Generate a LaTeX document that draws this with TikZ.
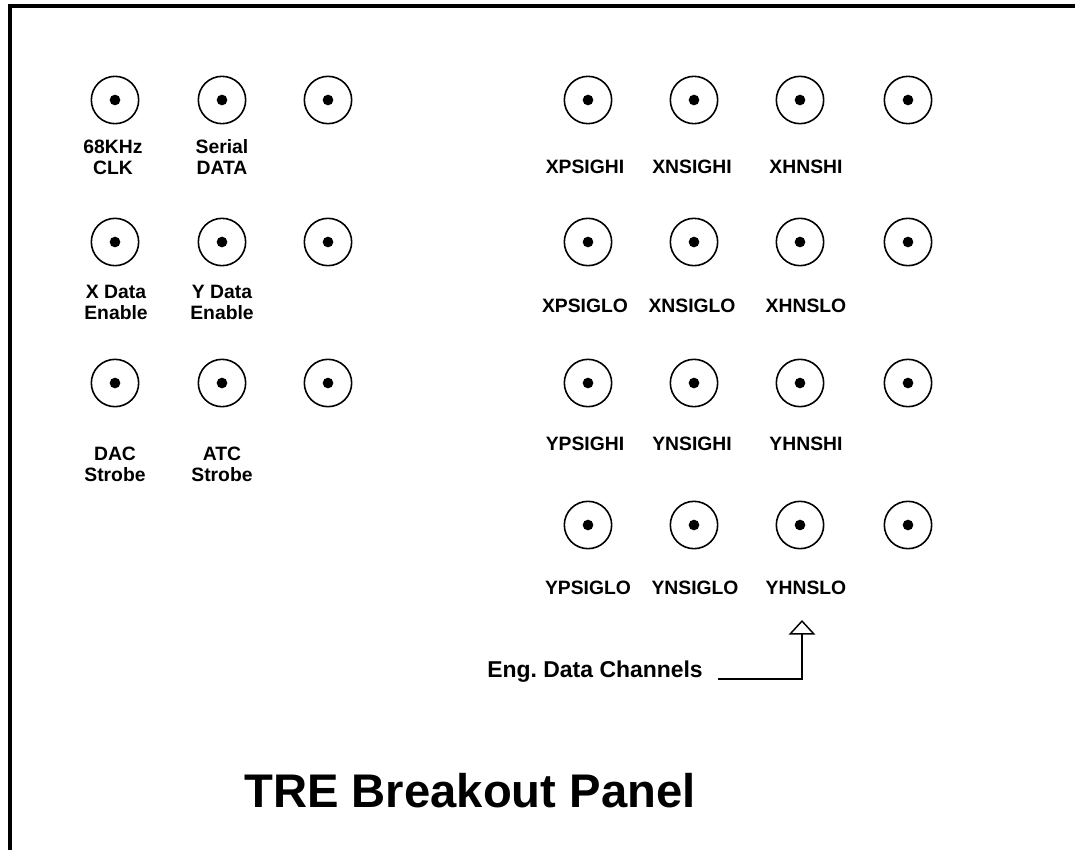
\documentclass[tikz,border=0pt]{standalone}
\usepackage{fontspec}
\setmainfont{Liberation Sans}
\usetikzlibrary{arrows.meta, positioning}

\tikzset{
  jack/.style={draw, circle, line width=1.2pt, minimum size=35.5pt, inner sep=0pt,
    path picture={\fill (path picture bounding box.center) circle (4pt);}},
  tag/.style={font=\bfseries\fontsize{14.5}{15.75}\selectfont, align=center, inner sep=0pt, anchor=base},
}

\begin{document}
\begin{tikzpicture}[x=0.75pt, y=-0.75pt, >=Latex]
  \useasboundingbox (0,0) rectangle (1075,850);
  % panel outline (cut off on the right and at the bottom)
  \draw[line width=2.3pt] (1075,6) -- (10,6) -- (10,850);
  % left block: timing / control jacks
  \node[jack] (clk)    at (115,100) {};
  \node[jack] (sdata)  at (222,100) {};
  \node[jack] (spareA) at (328,100) {};
  \node[jack] (xen)    at (115,242) {};
  \node[jack] (yen)    at (222,242) {};
  \node[jack] (spareB) at (328,242) {};
  \node[jack] (dac)    at (115,383) {};
  \node[jack] (atc)    at (222,383) {};
  \node[jack] (spareC) at (328,383) {};
  \node[tag] (clklbl)   at (113,174) {68KHz\\CLK};
  \node[tag] (sdatalbl) at (222,174) {Serial\\DATA};
  \node[tag] (xenlbl)   at (116,319) {X Data\\Enable};
  \node[tag] (yenlbl)   at (222,319) {Y Data\\Enable};
  \node[tag] (daclbl)   at (115,481) {DAC\\Strobe};
  \node[tag] (atclbl)   at (222,481) {ATC\\Strobe};
  % right block: engineering data channels
  \node[jack] (xpshi)  at (588,100) {};
  \node[jack] (xnshi)  at (694,100) {};
  \node[jack] (xhnshi) at (800,100) {};
  \node[jack] (spareD) at (908,100) {};
  \node[jack] (xpslo)  at (588,242) {};
  \node[jack] (xnslo)  at (694,242) {};
  \node[jack] (xhnslo) at (800,242) {};
  \node[jack] (spareE) at (908,242) {};
  \node[jack] (ypshi)  at (588,383) {};
  \node[jack] (ynshi)  at (694,383) {};
  \node[jack] (yhnshi) at (800,383) {};
  \node[jack] (spareF) at (908,383) {};
  \node[jack] (ypslo)  at (588,525) {};
  \node[jack] (ynslo)  at (694,525) {};
  \node[jack] (yhnslo) at (800,525) {};
  \node[jack] (spareG) at (908,525) {};
  \node[tag] at (585,173) {XPSIGHI};
  \node[tag] at (692,173) {XNSIGHI};
  \node[tag] at (806,173) {XHNSHI};
  \node[tag] at (585,312) {XPSIGLO};
  \node[tag] at (692,312) {XNSIGLO};
  \node[tag] at (806,312) {XHNSLO};
  \node[tag] at (585,450) {YPSIGHI};
  \node[tag] at (692,450) {YNSIGHI};
  \node[tag] at (806,450) {YHNSHI};
  \node[tag] at (588,594) {YPSIGLO};
  \node[tag] at (695,594) {YNSIGLO};
  \node[tag] (yhnslolbl) at (806,594) {YHNSLO};
  % pointer to the channel block
  \node[tag, font=\bfseries\fontsize{17.2}{19}\selectfont, anchor=base east] (eng) at (703,677) {Eng.\ Data Channels};
  \coordinate (engtip) at (802,620);
  \draw[line width=1.1pt, -{Triangle[open, length=11pt, width=20pt]}]
    ([xshift=11pt, yshift=-1.5pt]eng.base east) -| (engtip);
  % title
  \node[font=\bfseries\fontsize{35.4}{40}\selectfont, inner sep=0pt] (title) at (470,791) {TRE Breakout Panel};
\end{tikzpicture}
\end{document}
